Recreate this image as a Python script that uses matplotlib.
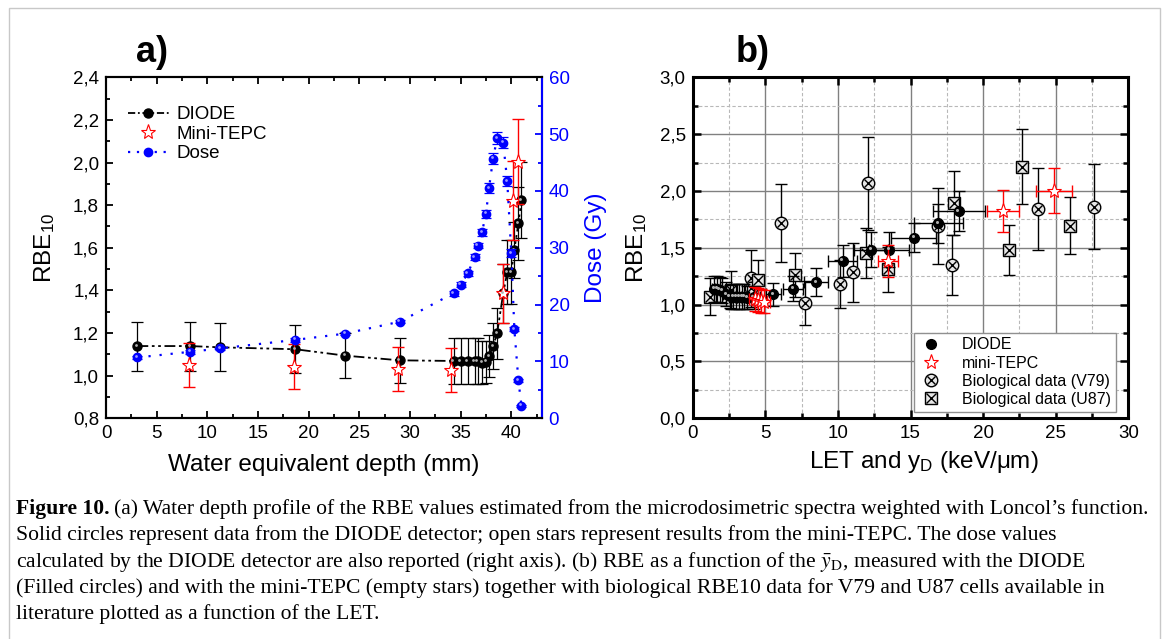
import matplotlib
matplotlib.use("Agg")
import matplotlib.pyplot as plt
from matplotlib.ticker import MultipleLocator, FuncFormatter
from matplotlib.patches import Rectangle
from matplotlib.lines import Line2D
from matplotlib.transforms import offset_copy

plt.rcParams['font.family'] = ['Liberation Sans', 'DejaVu Sans']
plt.rcParams['mathtext.fontset'] = 'custom'
plt.rcParams['mathtext.rm'] = 'Liberation Sans'
plt.rcParams['mathtext.it'] = 'Liberation Sans:italic'

# ---- panel a: depth profile ----
depth = [3.1, 8.3, 11.3, 18.7, 23.6, 29.0, 34.3, 35.0, 35.7, 36.4, 36.7,
         37.1, 37.5, 37.8, 38.2, 38.6, 39.2, 39.6, 40.0, 40.3, 40.7, 41.0]
rbe_diode = [1.139, 1.139, 1.133, 1.124, 1.094, 1.072, 1.069, 1.069, 1.069, 1.069, 1.069,
             1.061, 1.065, 1.092, 1.139, 1.199, 1.386, 1.485, 1.485, 1.59, 1.715, 1.824]
rbe_diode_err = [0.115, 0.115, 0.113, 0.112, 0.107, 0.105, 0.11, 0.11, 0.11, 0.11, 0.11,
                 0.10, 0.10, 0.10, 0.11, 0.12, 0.14, 0.15, 0.15, 0.13, 0.17, 0.18]
dose = [10.7, 11.7, 12.3, 13.8, 14.9, 17.0, 22.0, 23.5, 25.5, 28.4, 30.4,
        32.7, 36.0, 40.5, 45.7, 49.3, 48.5, 41.7, 29.1, 15.7, 6.7, 2.2]
dose_err = [0.3, 0.3, 0.3, 0.3, 0.3, 0.3, 0.4, 0.4, 0.4, 0.5, 0.5,
            0.6, 0.7, 0.9, 1.0, 1.0, 1.0, 0.9, 0.7, 0.4, 0.3, 0.2]
tepc_depth = [8.2, 18.55, 28.8, 34.0, 39.15, 40.13, 40.69]
tepc_rbe = [1.050, 1.042, 1.031, 1.027, 1.386, 1.82, 2.004]
tepc_err = [0.105, 0.105, 0.103, 0.103, 0.14, 0.185, 0.2]

# ---- panel b: RBE vs LET / yD ----
diode_yd = [1.5, 1.7, 1.85, 2.05, 2.3, 2.55, 2.8, 3.0, 3.2, 3.4, 3.55,
            3.75, 4.2, 5.55, 6.93, 8.49, 10.33, 12.28, 13.52, 15.24, 16.92, 18.32]
diode_yd_err = [0.15, 0.17, 0.18, 0.2, 0.22, 0.25, 0.28, 0.3, 0.32, 0.34, 0.36,
                0.38, 0.42, 0.5, 0.7, 0.8, 1.0, 1.2, 1.35, 1.55, 1.7, 1.8]
tepc_yd = [4.3, 4.5, 4.7, 4.9, 13.47, 21.39, 24.9]
tepc_yd_err = [0.4, 0.4, 0.45, 0.45, 0.7, 1.1, 1.23]
v79_let = [4.02, 4.02, 6.06, 7.73, 10.14, 11.02, 12.05, 16.92, 17.88, 23.75, 27.66]
v79_rbe = [1.232, 1.144, 1.716, 1.012, 1.182, 1.284, 2.067, 1.695, 1.349, 1.842, 1.862]
v79_err = [0.25, 0.10, 0.345, 0.195, 0.213, 0.26, 0.41, 0.335, 0.265, 0.363, 0.374]
u87_let = [1.2, 2.64, 4.52, 7.05, 11.91, 13.43, 18.0, 21.78, 22.65, 25.96]
u87_rbe = [1.07, 1.129, 1.217, 1.261, 1.457, 1.311, 1.897, 1.481, 2.214, 1.695]
u87_err = [0.16, 0.17, 0.18, 0.19, 0.22, 0.2, 0.28, 0.22, 0.33, 0.25]

W, H = 1168, 639
fig = plt.figure(figsize=(W / 100, H / 100), dpi=100)
fig.patches.append(Rectangle((9 / W, -0.05), 1151 / W, 1.05 - 8 / H, transform=fig.transFigure,
                             fill=False, edgecolor='#c8c8c8', lw=1))

comma = FuncFormatter(lambda v, p: f'{v:.1f}'.replace('.', ','))


def glint(ax, x, y, col, ms):
    tr = offset_copy(ax.transData, fig=fig, x=-1.0, y=1.0, units='points')
    ax.plot(x, y, ls='none', marker='o', ms=ms, color=col, mew=0, transform=tr, zorder=6)


TICK = 13.5
LAB = 17.5

# ================= panel a =================
axa = fig.add_axes([106 / W, 1 - 418.3 / H, 435.7 / W, 341 / H])
axd = axa.twinx()

axa.errorbar(depth, rbe_diode, yerr=rbe_diode_err, fmt='none', ecolor='black',
             elinewidth=0.9, capsize=4, capthick=0.9, zorder=2)
axa.plot(depth, rbe_diode, color='black', ls=(0, (6, 2, 1.5, 2, 1.5, 2)), lw=1.3,
         marker='o', ms=6.5, mfc='black', mec='black', zorder=3)
glint(axa, depth, rbe_diode, '#b0b0b0', 2)
axa.errorbar(tepc_depth, tepc_rbe, yerr=tepc_err, fmt='none', ecolor='red',
             elinewidth=1.0, capsize=4, capthick=1.0, zorder=4)
axa.plot(tepc_depth, tepc_rbe, ls='none', marker='*', ms=11, mfc='white', mec='red',
         mew=0.8, zorder=5)

axd.errorbar(depth, dose, yerr=dose_err, fmt='none', ecolor='blue', elinewidth=0.9,
             capsize=3.5, capthick=0.9, zorder=2)
axd.plot(depth, dose, color='blue', ls=(0, (1, 4)), lw=1.6, marker='o', ms=6,
         mfc='blue', mec='blue', zorder=3)
glint(axd, depth, dose, '#9a9aff', 2)

axa.set_xlim(0, 43)
axa.set_ylim(0.8, 2.4)
axd.set_ylim(0, 60)
axa.xaxis.set_major_locator(MultipleLocator(5))
axa.xaxis.set_minor_locator(MultipleLocator(2.5))
axa.yaxis.set_major_locator(MultipleLocator(0.2))
axa.yaxis.set_minor_locator(MultipleLocator(0.1))
axa.yaxis.set_major_formatter(comma)
axd.yaxis.set_major_locator(MultipleLocator(10))
axd.yaxis.set_minor_locator(MultipleLocator(5))
axa.tick_params(which='both', direction='in', top=True, right=False, labelsize=TICK,
                width=1.3, pad=5)
axa.tick_params(which='major', length=5)
axa.tick_params(which='minor', length=3)
axd.tick_params(which='both', direction='in', colors='blue', labelsize=TICK, width=1.3, pad=5)
axd.tick_params(which='major', length=5)
axd.tick_params(which='minor', length=3)
for s in axa.spines.values():
    s.set_linewidth(1.5)
for s in axd.spines.values():
    s.set_linewidth(1.5)
axd.spines['right'].set_color('blue')

axa.set_xlabel('Water equivalent depth (mm)', fontsize=LAB)
axa.xaxis.set_label_coords(0.5, -0.105)
axa.set_ylabel(r'RBE$_{\mathrm{10}}$', fontsize=LAB)
axa.yaxis.set_label_coords(-0.112, 0.5)
axd.set_ylabel('Dose (Gy)', fontsize=LAB, color='blue')
axd.yaxis.set_label_coords(1.1, 0.5)

leg_a = [
    Line2D([], [], color='black', ls=(0, (4, 1.5, 1, 1.5)), lw=1.3, marker='o', ms=6.5),
    Line2D([], [], ls='none', marker='*', ms=11, mfc='white', mec='red', mew=0.8),
    Line2D([], [], color='blue', ls=(0, (1, 3)), lw=1.6, marker='o', ms=6),
]
axa.legend(leg_a, ['DIODE', 'Mini-TEPC', 'Dose'], loc='upper left',
           bbox_to_anchor=(0.05, 0.915), frameon=False, fontsize=13.5, handlelength=2.2,
           handletextpad=0.4, labelspacing=0.12, borderpad=0, borderaxespad=0)

fig.text(136 / W, 1 - 62 / H, 'a)', fontsize=26, fontweight='bold')

# ================= panel b =================
axb = fig.add_axes([692.7 / W, 1 - 418.3 / H, 435.6 / W, 341 / H])
axb.set_axisbelow(True)
axb.grid(which='major', color='#808080', lw=1, ls='-')
axb.grid(which='minor', color='#b8b8b8', lw=0.8, ls=(0, (3, 2)))

axb.errorbar(v79_let, v79_rbe, yerr=v79_err, fmt='none', ecolor='black', elinewidth=1,
             capsize=4, capthick=1, zorder=2)
axb.plot(v79_let, v79_rbe, ls='none', marker='o', ms=9, mfc='#e6e6e6', mec='black',
         mew=1, zorder=3)
axb.plot(v79_let, v79_rbe, ls='none', marker='x', ms=6, color='black', mew=1, zorder=3)
axb.errorbar(u87_let, u87_rbe, yerr=u87_err, fmt='none', ecolor='black', elinewidth=1,
             capsize=4, capthick=1, zorder=2)
axb.plot(u87_let, u87_rbe, ls='none', marker='s', ms=8.5, mfc='#e6e6e6', mec='black',
         mew=1, zorder=3)
axb.plot(u87_let, u87_rbe, ls='none', marker='x', ms=7, color='black', mew=1, zorder=3)

axb.errorbar(diode_yd, rbe_diode, xerr=diode_yd_err, yerr=rbe_diode_err, fmt='o', ms=7,
             color='black', elinewidth=1, capsize=4, capthick=1, zorder=4)
glint(axb, diode_yd, rbe_diode, '#b0b0b0', 2.2)
axb.errorbar(tepc_yd, tepc_rbe, xerr=tepc_yd_err, yerr=tepc_err, fmt='none', ecolor='red',
             elinewidth=1, capsize=4, capthick=1, zorder=5)
axb.plot(tepc_yd, tepc_rbe, ls='none', marker='*', ms=11, mfc='white', mec='red', mew=0.8,
         zorder=6)

axb.set_xlim(0, 30)
axb.set_ylim(0, 3)
axb.xaxis.set_major_locator(MultipleLocator(5))
axb.xaxis.set_minor_locator(MultipleLocator(2.5))
axb.yaxis.set_major_locator(MultipleLocator(0.5))
axb.yaxis.set_minor_locator(MultipleLocator(0.25))
axb.yaxis.set_major_formatter(comma)
axb.tick_params(which='both', direction='in', top=True, right=True, labelsize=TICK,
                width=1.8, pad=5)
axb.tick_params(which='major', length=6)
axb.tick_params(which='minor', length=3.5)
for s in axb.spines.values():
    s.set_linewidth(2.2)

axb.set_xlabel('LET and y$_{\\mathrm{D}}$ (keV/μm)', fontsize=LAB)
axb.xaxis.set_label_coords(0.53, -0.09)
axb.set_ylabel(r'RBE$_{\mathrm{10}}$', fontsize=LAB)
axb.yaxis.set_label_coords(-0.1, 0.5)

leg_b = [
    Line2D([], [], ls='none', marker='o', ms=7, color='black'),
    Line2D([], [], ls='none', marker='*', ms=11, mfc='white', mec='red', mew=0.8),
    (Line2D([], [], ls='none', marker='o', ms=9, mfc='#e6e6e6', mec='black'),
     Line2D([], [], ls='none', marker='x', ms=6, color='black')),
    (Line2D([], [], ls='none', marker='s', ms=8.5, mfc='#e6e6e6', mec='black'),
     Line2D([], [], ls='none', marker='x', ms=7, color='black')),
]
lg = axb.legend(leg_b, ['DIODE', 'mini-TEPC', 'Biological data (V79)', 'Biological data (U87)'],
                loc='lower right', bbox_to_anchor=(0.971, 0.019), fontsize=11.5,
                fancybox=False, edgecolor='#909090', framealpha=1, handlelength=1.5,
                handletextpad=1.2, labelspacing=0.2, borderpad=0.3, borderaxespad=0)
lg.get_frame().set_linewidth(1)

fig.text(736 / W, 1 - 62 / H, 'b)', fontsize=26, fontweight='bold')

# ================= caption =================
cap_size = 15.6
cap_x = 16 / W
lines = [
    '(a) Water depth profile of the RBE values estimated from the microdosimetric spectra weighted with Loncol\u2019s function.',
    'Solid circles represent data from the DIODE detector; open stars represent results from the mini-TEPC. The dose values',
    'calculated by the DIODE detector are also reported (right axis). (b) RBE as a function of the $\\bar{y}_{\\mathrm{D}}$, measured with the DIODE',
    '(Filled circles) and with the mini-TEPC (empty stars) together with biological RBE10 data for V79 and U87 cells available in',
    'literature plotted as a function of the LET.',
]
base_y = [514, 540, 567, 593, 619]
t0 = fig.text(cap_x, 1 - base_y[0] / H, 'Figure 10.', fontsize=cap_size, fontweight='bold',
              family='Liberation Serif', va='baseline')
r = fig.canvas.get_renderer()
bb = t0.get_window_extent(renderer=r)
fig.text(bb.x1 / W + 4 / W, 1 - base_y[0] / H, lines[0], fontsize=cap_size,
         family='Liberation Serif', va='baseline', math_fontfamily='stix')
for ln, yb in zip(lines[1:], base_y[1:]):
    fig.text(cap_x, 1 - yb / H, ln, fontsize=cap_size, family='Liberation Serif',
             va='baseline', math_fontfamily='stix')

fig.savefig('out.png', dpi=100)
